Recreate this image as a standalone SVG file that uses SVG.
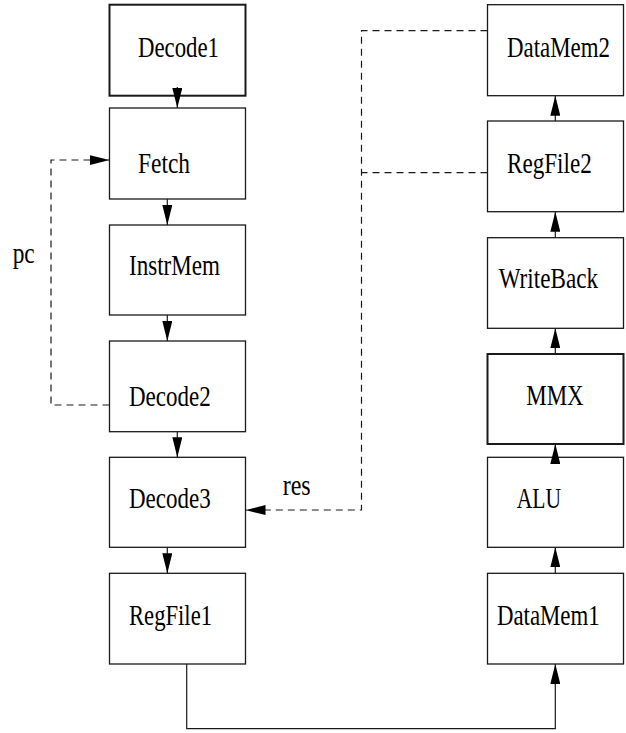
<svg xmlns="http://www.w3.org/2000/svg" width="626" height="733" viewBox="0 0 626 733">
<style>
.box{fill:#fff;stroke:#1a1a1a;stroke-width:1.3}
.thick{stroke-width:2}
.lbl{font-family:"Liberation Serif","Times New Roman",serif;font-size:30px;fill:#000}
.ln{fill:none;stroke:#1a1a1a;stroke-width:1.2}
.dash{stroke-dasharray:7 5}
</style>
<defs>
<marker id="ah" markerUnits="userSpaceOnUse" markerWidth="20" markerHeight="10" viewBox="0 0 20 10" refX="20" refY="5" orient="auto">
<path d="M0,0 L20,5 L0,10 z" fill="#000" stroke="none"/>
</marker>
</defs>
<rect width="626" height="733" fill="#fff"/>
<g id="Decode1"><rect class="box thick" x="109.5" y="4.7" width="136" height="91"/><text class="lbl" transform="translate(138 57) scale(0.765 1)" textLength="105.9" lengthAdjust="spacingAndGlyphs">Decode1</text></g>
<g id="Fetch"><rect class="box" x="109.5" y="108" width="136" height="91"/><text class="lbl" transform="translate(138 172.7) scale(0.765 1)" textLength="68" lengthAdjust="spacingAndGlyphs">Fetch</text></g>
<g id="InstrMem"><rect class="box" x="109.5" y="225" width="136" height="90"/><text class="lbl" transform="translate(129 275) scale(0.765 1)" textLength="119" lengthAdjust="spacingAndGlyphs">InstrMem</text></g>
<g id="Decode2"><rect class="box" x="109.5" y="341" width="136" height="90.7"/><text class="lbl" transform="translate(129 405.7) scale(0.765 1)" textLength="106.8" lengthAdjust="spacingAndGlyphs">Decode2</text></g>
<g id="Decode3"><rect class="box" x="109.5" y="457.3" width="136" height="90"/><text class="lbl" transform="translate(129 508) scale(0.765 1)" textLength="106.8" lengthAdjust="spacingAndGlyphs">Decode3</text></g>
<g id="RegFile1"><rect class="box" x="109.5" y="573.3" width="136" height="90.7"/><text class="lbl" transform="translate(129 625) scale(0.765 1)" textLength="108.5" lengthAdjust="spacingAndGlyphs">RegFile1</text></g>
<g id="DataMem2"><rect class="box" x="487.5" y="4.7" width="136" height="91"/><text class="lbl" transform="translate(507 57.3) scale(0.765 1)" textLength="134.6" lengthAdjust="spacingAndGlyphs">DataMem2</text></g>
<g id="RegFile2"><rect class="box" x="487.5" y="121" width="136" height="90.7"/><text class="lbl" transform="translate(507 172.7) scale(0.765 1)" textLength="110.7" lengthAdjust="spacingAndGlyphs">RegFile2</text></g>
<g id="WriteBack"><rect class="box" x="487.5" y="237.7" width="136" height="90.6"/><text class="lbl" transform="translate(498.7 288.3) scale(0.765 1)" textLength="129.8" lengthAdjust="spacingAndGlyphs">WriteBack</text></g>
<g id="MMX"><rect class="box thick" x="487.5" y="354" width="136" height="90"/><text class="lbl" transform="translate(526.3 405) scale(0.765 1)" textLength="75" lengthAdjust="spacingAndGlyphs">MMX</text></g>
<g id="ALU"><rect class="box" x="487.5" y="457.3" width="136" height="90"/><text class="lbl" transform="translate(516.7 508.3) scale(0.765 1)" textLength="57.9" lengthAdjust="spacingAndGlyphs">ALU</text></g>
<g id="DataMem1"><rect class="box" x="487.5" y="573.3" width="136" height="90.7"/><text class="lbl" transform="translate(497 625) scale(0.765 1)" textLength="134.2" lengthAdjust="spacingAndGlyphs">DataMem1</text></g>
<g id="connectors">
<line class="ln" x1="177.3" y1="87" x2="177.3" y2="108" marker-end="url(#ah)"/>
<line class="ln" x1="167.3" y1="199" x2="167.3" y2="225" marker-end="url(#ah)"/>
<line class="ln" x1="167.3" y1="315" x2="167.3" y2="341" marker-end="url(#ah)"/>
<line class="ln" x1="177.3" y1="431.7" x2="177.3" y2="457.3" marker-end="url(#ah)"/>
<line class="ln" x1="167.3" y1="547.3" x2="167.3" y2="573.3" marker-end="url(#ah)"/>
<path class="ln" d="M186.7,664 V728.7 H555.3 V664" marker-end="url(#ah)"/>
<line class="ln" x1="555.3" y1="573.3" x2="555.3" y2="547.3" marker-end="url(#ah)"/>
<line class="ln" x1="555.3" y1="457.3" x2="555.3" y2="444" marker-end="url(#ah)"/>
<line class="ln" x1="555.3" y1="354" x2="555.3" y2="328.3" marker-end="url(#ah)"/>
<line class="ln" x1="555.3" y1="237.7" x2="555.3" y2="211.7" marker-end="url(#ah)"/>
<line class="ln" x1="555.3" y1="121" x2="555.3" y2="95.7" marker-end="url(#ah)"/>
<path class="ln dash" d="M109.5,405 H51 V160 H109.5" marker-end="url(#ah)"/>
<path class="ln dash" d="M487.5,30.7 H361.5 V510 H245.5" marker-end="url(#ah)"/>
<path class="ln dash" d="M487.5,172.7 H361.5"/>
<text class="lbl" transform="translate(12.7 263) scale(0.765 1)" textLength="28.8" lengthAdjust="spacingAndGlyphs">pc</text>
<text class="lbl" transform="translate(282.7 495) scale(0.765 1)" textLength="36.6" lengthAdjust="spacingAndGlyphs">res</text>
</g>
</svg>
